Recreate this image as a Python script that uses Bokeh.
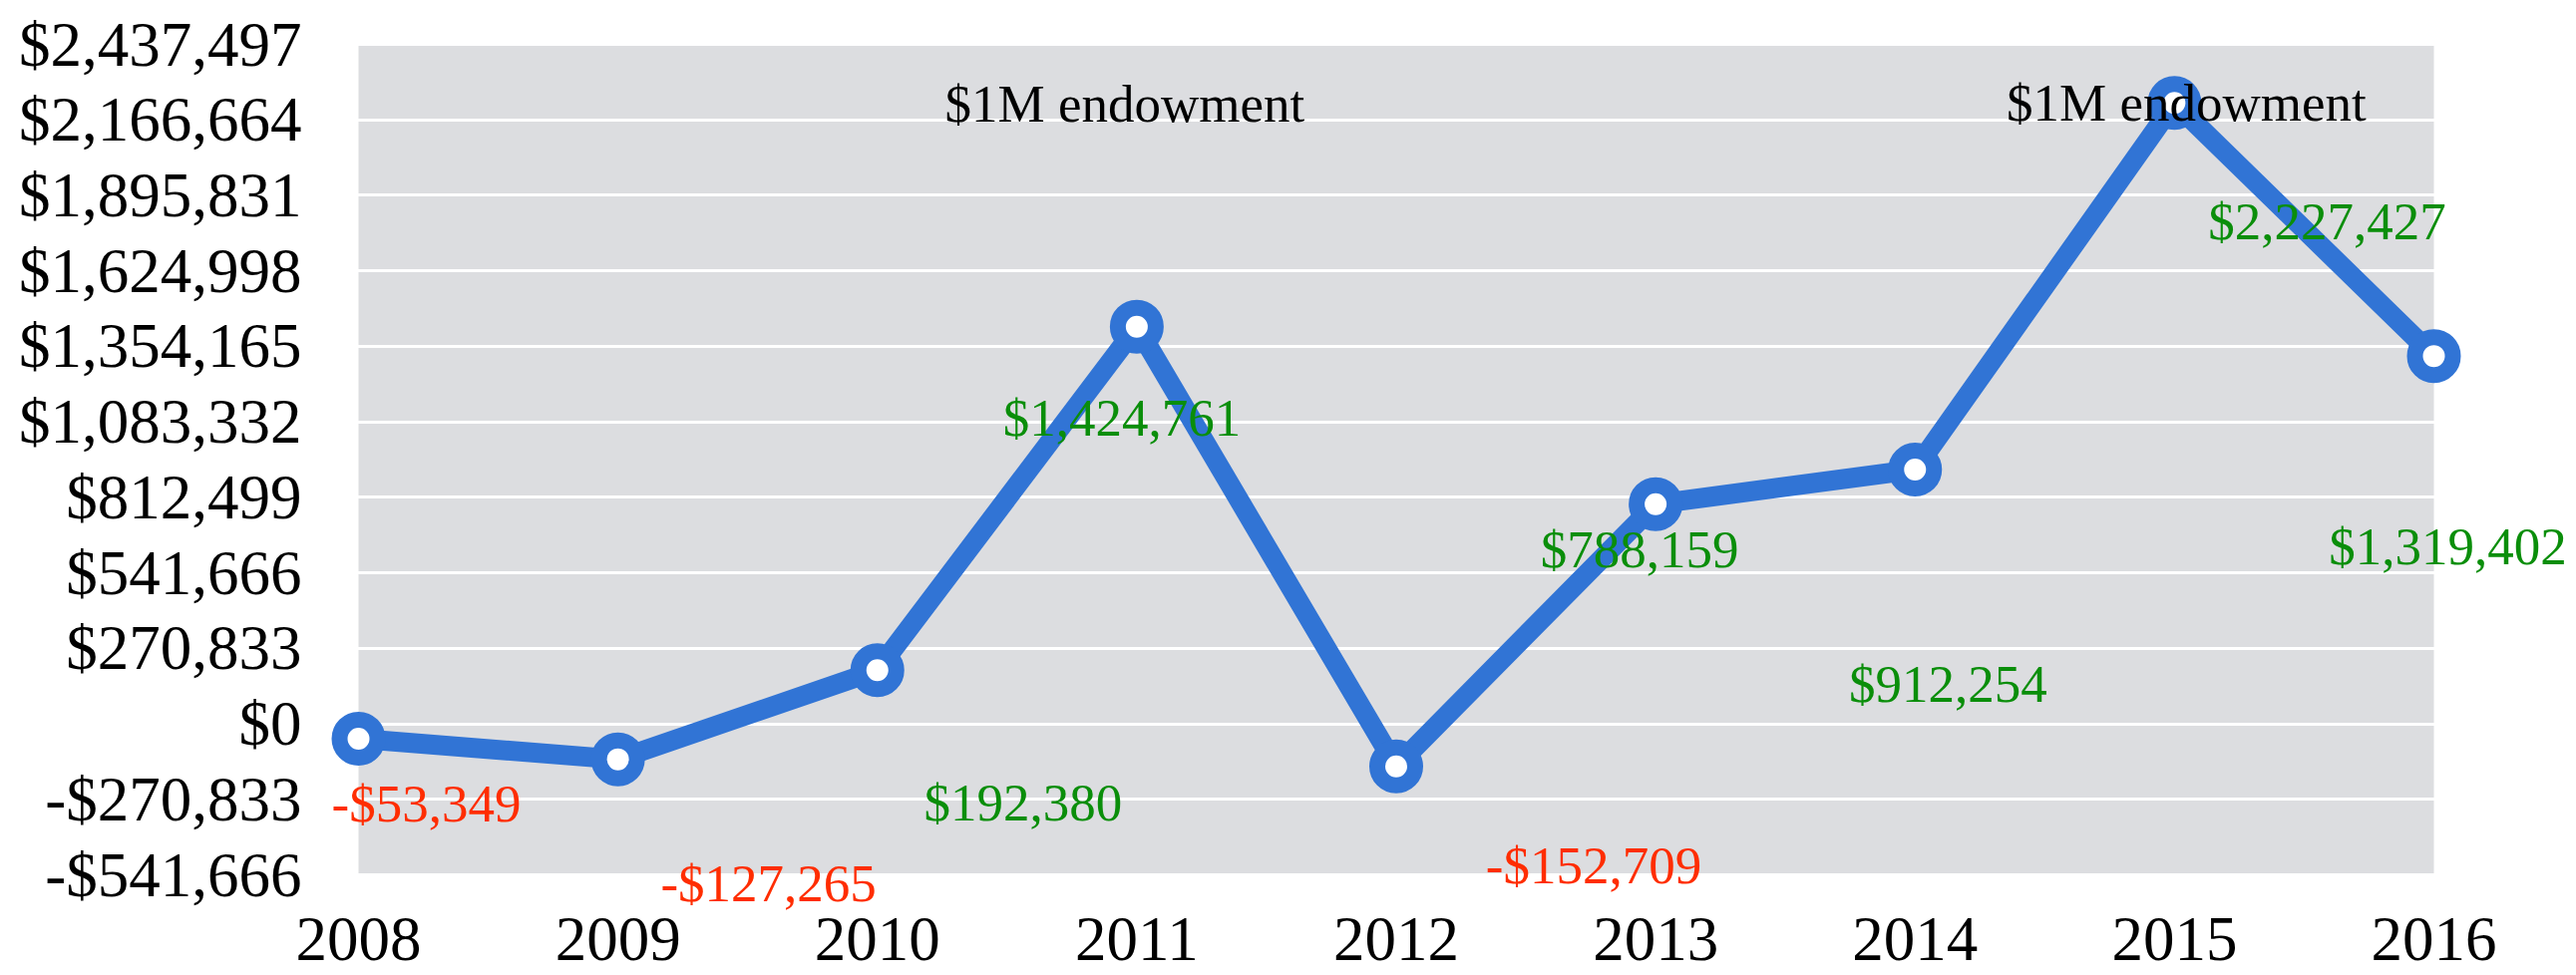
from bokeh.plotting import figure
from bokeh.models import Range1d, FixedTicker, BoxAnnotation, ColumnDataSource
from bokeh.core.properties import value
from bokeh.embed import file_html
from bokeh.resources import INLINE

# ---------------- data ----------------
years = [2008, 2009, 2010, 2011, 2012, 2013, 2014, 2015, 2016]
net_values = [-53349, -127265, 192380, 1424761, -152709, 788159, 912254, 2227427, 1319402]
year_labels = ["2008", "2009", "2010", "2011", "2012", "2013", "2014", "2015", "2016"]
y_ticks = [2437497, 2166664, 1895831, 1624998, 1354165, 1083332, 812499,
           541666, 270833, 0, -270833, -541666]
y_tick_labels = ["$2,437,497", "$2,166,664", "$1,895,831", "$1,624,998", "$1,354,165",
                 "$1,083,332", "$812,499", "$541,666", "$270,833", "$0",
                 "-$270,833", "-$541,666"]
note_years = [2011, 2015]
note_texts = ["$1M endowment", "$1M endowment"]

# ---------------- layout / style ----------------
W, H = 2583, 978
GL, GR, GT, GB = 359, 2440, 44, 877   # gray plot area in figure pixels
FONT = "Liberation Serif"
BLUE = "#3174d5"
GREEN = "#0a8e0a"
RED = "#ff2d00"
GRAY = "#dcdde0"

x0, x1 = min(years), max(years)
y0, y1 = min(y_ticks), max(y_ticks)
pxx = (GR - GL) / (x1 - x0)
pxy = (GB - GT) / (y1 - y0)
x_range = Range1d(x0 - GL / pxx, x1 + (W - GR) / pxx)
y_range = Range1d(y0 - (H - GB) / pxy, y1 + GT / pxy)

p = figure(width=W, height=H, x_range=x_range, y_range=y_range,
           output_backend="svg", toolbar_location=None)
p.min_border = 0
p.outline_line_color = None
p.background_fill_color = "white"
p.border_fill_color = "white"

# gray plotting area
p.add_layout(BoxAnnotation(left=x0, right=x1, bottom=y0, top=y1,
                           fill_color=GRAY, fill_alpha=1.0, line_color=None,
                           level="image"))

# axes
xa = p.xaxis[0]
xa.ticker = FixedTicker(ticks=years)
xa.major_label_overrides = {y: l for y, l in zip(years, year_labels)}
xa.fixed_location = y0
xa.axis_line_color = None
xa.major_tick_line_color = None
xa.minor_tick_line_color = None
xa.major_tick_in = 0
xa.major_tick_out = 0
xa.major_label_standoff = 43
xa.major_label_text_font = FONT
xa.major_label_text_font_size = "63px"
xa.major_label_text_color = "black"

ya = p.yaxis[0]
ya.ticker = FixedTicker(ticks=y_ticks)
ya.major_label_overrides = {t: l for t, l in zip(y_ticks, y_tick_labels)}
ya.fixed_location = x0
ya.axis_line_color = None
ya.major_tick_line_color = None
ya.minor_tick_line_color = None
ya.major_tick_in = 0
ya.major_tick_out = 0
ya.major_label_standoff = 57
ya.major_label_text_font = FONT
ya.major_label_text_font_size = "63px"
ya.major_label_text_color = "black"

p.xgrid.visible = False
p.ygrid.ticker = FixedTicker(ticks=y_ticks)
p.ygrid.grid_line_color = "white"
p.ygrid.grid_line_width = 3

# line + markers
src = ColumnDataSource(dict(
    x=years, y=net_values,
    label=[("-$" if v < 0 else "$") + f"{abs(v):,}" for v in net_values],
    color=[RED if v < 0 else GREEN for v in net_values],
    dx=[68, 151, 146, -15, 198, -16, 33, 153, 14],
    dy=[65, 124, 133, 91, 99, 45, 215, 119, 191],
))
p.line("x", "y", source=src, line_color=BLUE, line_width=20)
p.scatter("x", "y", source=src, size=38, fill_color="white",
          line_color=BLUE, line_width=16)

p.text("x", "y", text="label", source=src, x_offset="dx", y_offset="dy",
       text_align="center", text_baseline="alphabetic",
       text_font=value(FONT), text_font_size="53px", text_color="color")

# annotations
p.text(x=note_years, y=[y1] * len(note_years), text=note_texts,
       x_offset=[-12, 12], y_offset=[59, 58],
       text_align="center", text_baseline="alphabetic",
       text_font=value(FONT), text_font_size="53px", text_color="black")

open("out.html", "w").write(file_html(p, INLINE))
